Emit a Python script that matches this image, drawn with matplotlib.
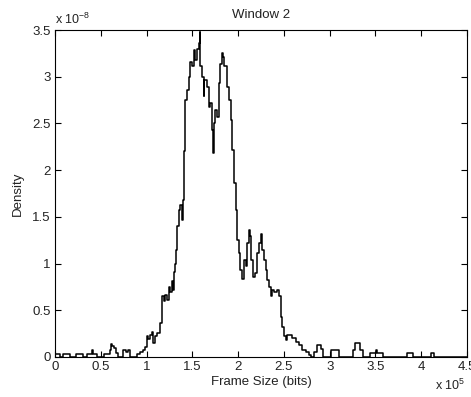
import matplotlib
matplotlib.use("Agg")
import matplotlib.pyplot as plt

plt.rcParams['font.family'] = ['Liberation Sans', 'DejaVu Sans']

# Frame size in units of 1e5 bits, density in units of 1e-8
frame_size = [0.00, 0.055, 0.088, 0.164, 0.23, 0.307, 0.35, 0.40, 0.41, 0.46,
              0.537, 0.60, 0.61, 0.625, 0.645, 0.665, 0.69, 0.745, 0.77, 0.80,
              0.82, 0.90, 0.93, 0.96, 0.986, 1.004, 1.02, 1.04, 1.059, 1.073,
              1.09, 1.114, 1.15, 1.169, 1.19, 1.205, 1.223, 1.241, 1.26, 1.278,
              1.289, 1.296, 1.31, 1.322, 1.333, 1.35, 1.369, 1.387, 1.399, 1.41,
              1.424, 1.442, 1.460, 1.479, 1.497, 1.515, 1.533, 1.552, 1.570, 1.580,
              1.588, 1.607, 1.624, 1.632, 1.662, 1.679, 1.698, 1.716, 1.727, 1.734,
              1.752, 1.771, 1.789, 1.807, 1.826, 1.837, 1.851, 1.881, 1.898, 1.917,
              1.935, 1.953, 1.972, 1.990, 2.008, 2.026, 2.045, 2.062, 2.081, 2.100,
              2.117, 2.128, 2.143, 2.165, 2.180, 2.202, 2.227, 2.245, 2.264, 2.281,
              2.300, 2.319, 2.336, 2.355, 2.373, 2.391, 2.428, 2.446, 2.464, 2.483,
              2.500, 2.519, 2.538, 2.574, 2.593, 2.629, 2.665, 2.702, 2.738, 2.774,
              2.793, 2.829, 2.866, 2.902, 2.932, 3.012, 3.10, 3.25, 3.275, 3.33,
              3.36, 3.44, 3.505, 3.52, 3.58, 3.84, 3.91, 4.107, 4.14, 4.5]
density = [0.035, 0.0, 0.035, 0.0, 0.035, 0.0, 0.035, 0.07, 0.035, 0.0,
           0.035, 0.07, 0.14, 0.12, 0.10, 0.04, 0.0, 0.07, 0.05, 0.07,
           0.0, 0.03, 0.057, 0.08, 0.11, 0.22, 0.19, 0.235, 0.27, 0.15,
           0.22, 0.26, 0.36, 0.65, 0.60, 0.66, 0.61, 0.75, 0.70, 0.81,
           0.72, 0.91, 1.00, 1.15, 1.40, 1.57, 1.63, 1.47, 1.68, 2.20,
           2.75, 2.86, 3.00, 3.16, 3.11, 3.29, 3.18, 3.30, 3.36, 3.48,
           3.11, 3.00, 2.79, 2.97, 2.89, 2.68, 2.72, 2.43, 2.18, 2.50,
           2.64, 2.57, 2.93, 3.14, 3.25, 3.21, 3.11, 2.89, 2.75, 2.54,
           2.22, 1.86, 1.57, 1.25, 1.11, 0.93, 0.84, 1.04, 0.97, 1.22,
           1.36, 1.29, 1.04, 0.86, 0.90, 1.11, 1.22, 1.32, 1.15, 1.04,
           0.93, 0.82, 0.75, 0.65, 0.72, 0.70, 0.72, 0.65, 0.43, 0.32,
           0.22, 0.18, 0.235, 0.235, 0.20, 0.16, 0.13, 0.075, 0.057, 0.02,
           0.0, 0.057, 0.13, 0.09, 0.0, 0.075, 0.0, 0.07, 0.15, 0.07,
           0.0, 0.04, 0.07, 0.04, 0.0, 0.04, 0.0, 0.04, 0.0, 0.0]

x_ticks = [0, 0.5, 1, 1.5, 2, 2.5, 3, 3.5, 4, 4.5]
x_tick_labels = ['0', '0.5', '1', '1.5', '2', '2.5', '3', '3.5', '4', '4.5']
y_ticks = [0, 0.5, 1, 1.5, 2, 2.5, 3, 3.5]
y_tick_labels = ['0', '0.5', '1', '1.5', '2', '2.5', '3', '3.5']

fig = plt.figure(figsize=(4.71, 3.97), dpi=100)
ax = fig.add_axes([0.1168, 0.1008, 0.8747, 0.8236])
ax.plot(frame_size, density, drawstyle='steps-post', color='black', lw=1.1)
ax.set_xlim(0, 4.5)
ax.set_ylim(0, 3.5)
ax.set_xticks(x_ticks)
ax.set_xticklabels(x_tick_labels)
ax.set_yticks(y_ticks)
ax.set_yticklabels(y_tick_labels)
txt = '#222222'
ax.tick_params(direction='in', length=4, width=0.8, top=True, right=True,
               labelsize=9.5, labelcolor=txt, pad=3)
for s in ax.spines.values():
    s.set_linewidth(0.8)
ax.set_title('Window 2', fontsize=9.5, color=txt, pad=9)
ax.set_xlabel('Frame Size (bits)', fontsize=9.5, color=txt, labelpad=2)
ax.set_ylabel('Density', fontsize=9.5, color=txt, labelpad=6)
ax.text(0.0, 1.01, r'x 10$^{\mathregular{-8}}$', transform=ax.transAxes,
        fontsize=9, color=txt, ha='left', va='bottom')
ax.text(0.995, -0.065, r'x 10$^{\mathregular{5}}$', transform=ax.transAxes,
        fontsize=9, color=txt, ha='right', va='top')
fig.savefig('out.png', dpi=100)
